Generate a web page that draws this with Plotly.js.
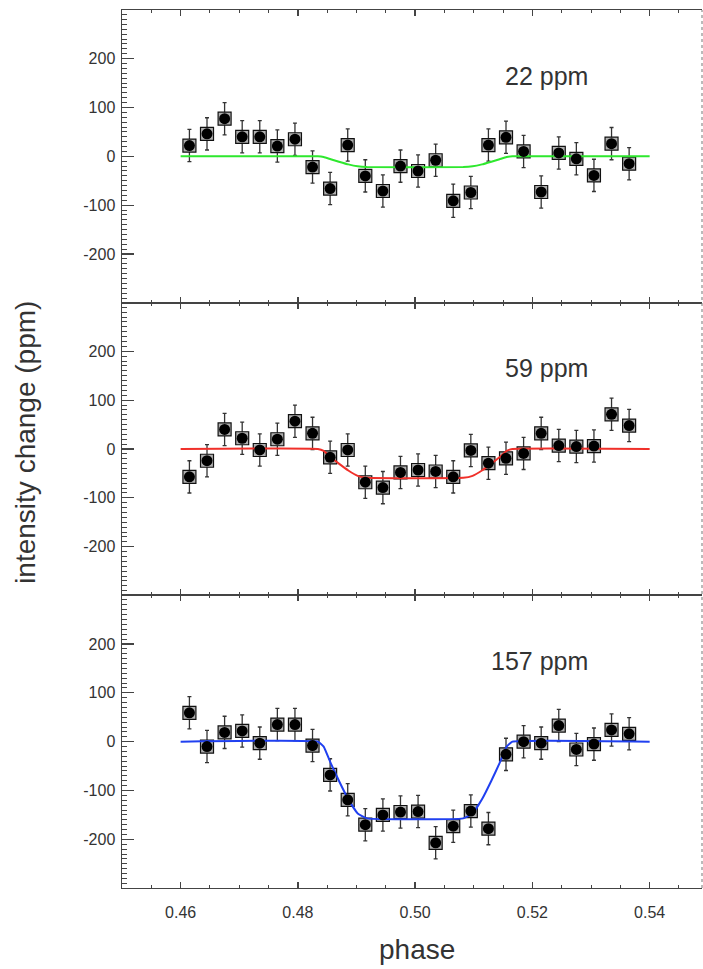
<!DOCTYPE html>
<html>
<head>
<meta charset="utf-8">
<script src="https://cdn.plot.ly/plotly-3.0.1.min.js"></script>
<style>html,body{margin:0;padding:0;background:#fff;}#chart{width:703px;height:969px;}</style>
</head>
<body>
<div id="chart"></div>
<script>
// phase of each binned point
const phase = [0.4615,0.4645,0.4675,0.4705,0.4735,0.4765,0.4795,0.4825,0.4855,0.4885,0.4915,0.4945,0.4975,0.5005,0.5035,0.5065,0.5095,0.5125,0.5155,0.5185,0.5215,0.5245,0.5275,0.5305,0.5335,0.5365];
// intensity change (ppm), one array per panel
const topVals = [22,46,77,40,40,21,35,-22,-66,23,-40,-71,-20,-30,-8,-91,-74,23,39,10,-73,7,-5,-39,26,-15];
const midVals = [-57,-24,40,22,-2,20,57,32,-17,-2,-68,-79,-48,-43,-46,-57,-3,-29,-19,-9,32,7,5,6,71,48];
const botVals = [59,-10,19,22,-3,35,35,-8,-68,-119,-170,-150,-144,-143,-207,-173,-142,-178,-26,0,-3,33,-16,-5,24,16];
// error bars (ppm)
const topErr = [33,33,33,33,33,33,33,33,33,33,33,33,33,33,33,34,33,33,33,33,33,33,33,33,33,33];
const midErr = [33,33,33,33,33,33,33,33,33,33,33,33,33,33,33,33,33,33,33,33,33,33,33,33,33,33];
const botErr = [33,33,33,33,33,33,33,33,33,33,33,33,33,33,33,33,33,33,33,33,33,33,33,33,33,33];
// model transit curves
const modelX = [0.4600,0.4834,0.4844,0.4856,0.4870,0.4886,0.4902,0.4918,0.5082,0.5098,0.5114,0.5130,0.5144,0.5156,0.5166,0.5400];
const modelTop = [0,0,-1.5,-6,-11,-16.5,-20.5,-22,-22,-20.5,-16.5,-11,-6,-1.5,0,0];
const modelMid = [0,0,-4,-17,-30,-44,-55,-59,-59,-55,-44,-30,-17,-4,0,0];
const modelBot = [0,0,-10,-44,-80,-118,-147,-157,-157,-147,-118,-80,-44,-10,0,0];
const depthLabels = ['22 ppm','59 ppm','157 ppm'];
const yTicks = [-200,-100,0,100,200];
const xTicks = [0.46,0.48,0.50,0.52,0.54];

const FONT = 'Liberation Sans, Arial, Helvetica, sans-serif';
const AX = '#444';
const panels = [
  {vals: topVals, err: topErr, model: modelTop, color: '#2ee82e', x: 'x3', y: 'y3'},
  {vals: midVals, err: midErr, model: modelMid, color: '#f0302a', x: 'x2', y: 'y2'},
  {vals: botVals, err: botErr, model: modelBot, color: '#2040f0', x: 'x', y: 'y'}
];
const traces = [];
panels.forEach(p => {
  traces.push({
    x: phase, y: p.vals, xaxis: p.x, yaxis: p.y, type: 'scatter', mode: 'markers',
    marker: {symbol: 'square', size: 13, color: '#b0b0b0', line: {color: '#111', width: 1.2}},
    error_y: {type: 'data', array: p.err, visible: true, color: '#333', thickness: 1.3, width: 2},
    hoverinfo: 'skip', showlegend: false
  });
  traces.push({
    x: modelX, y: p.model, xaxis: p.x, yaxis: p.y, type: 'scatter', mode: 'lines',
    line: {color: p.color, width: 2, shape: 'spline', smoothing: 0.35},
    hoverinfo: 'skip', showlegend: false
  });
  traces.push({
    x: phase, y: p.vals, xaxis: p.x, yaxis: p.y, type: 'scatter', mode: 'markers',
    marker: {symbol: 'circle', size: 11, color: '#000', line: {width: 0}},
    hoverinfo: 'skip', showlegend: false
  });
});

function xax(anchor, labels) {
  return {
    range: [0.45, 0.54893], anchor: anchor, tickvals: xTicks, ticktext: xTicks.map(v => v.toFixed(2)),
    ticks: 'inside', ticklen: 6, tickwidth: 1.3, tickcolor: AX,
    minor: {dtick: 0.005, tick0: 0.45, ticks: 'inside', ticklen: 3, tickcolor: AX, tickwidth: 1},
    showline: true, mirror: 'ticks', linecolor: AX, linewidth: 1.1, showgrid: false, zeroline: false,
    showticklabels: labels, tickfont: {family: FONT, size: 16, color: '#333'}, ticklabelstandoff: 10
  };
}
function yax(domain, anchor) {
  return {
    domain: domain, range: [-299.5, 299.5], tickvals: yTicks, ticktext: yTicks.map(String),
    ticks: 'inside', ticklen: 12, tickwidth: 1.2, tickcolor: AX,
    minor: {dtick: 10, tick0: 0, ticks: 'inside', ticklen: 5, tickcolor: AX, tickwidth: 1},
    showline: true, linecolor: AX, linewidth: 1.5, showgrid: false, zeroline: false,
    anchor: anchor, tickfont: {family: FONT, size: 16, color: '#333'}, ticklabelstandoff: 2
  };
}
function yaxR(domain, over, anchor) {
  return {
    domain: domain, range: [-299.5, 299.5], tickvals: yTicks, overlaying: over, side: 'right',
    ticks: 'inside', ticklen: 5, tickwidth: 1.2, tickcolor: '#666',
    minor: {dtick: 10, tick0: 0, ticks: 'inside', ticklen: 2, tickcolor: '#888', tickwidth: 1},
    showline: false, showgrid: false, zeroline: false, showticklabels: false, anchor: anchor
  };
}
const third = 1/3;
const layout = {
  width: 703, height: 969,
  margin: {l: 122, r: 1, t: 10, b: 81},
  paper_bgcolor: '#fff', plot_bgcolor: '#fff',
  showlegend: false,
  xaxis: xax('y', true),
  xaxis2: xax('y2', false),
  xaxis3: xax('y3', false),
  yaxis: yax([0, third], 'x'),
  yaxis2: yax([third, 2*third], 'x2'),
  yaxis3: yax([2*third, 1], 'x3'),
  yaxis4: yaxR([0, third], 'y', 'x'),
  yaxis5: yaxR([third, 2*third], 'y2', 'x2'),
  yaxis6: yaxR([2*third, 1], 'y3', 'x3'),
  shapes: [
    {type: 'line', xref: 'paper', yref: 'paper', x0: 1, x1: 1, y0: 0, y1: 1,
     line: {color: '#777', width: 1, dash: 'dot'}}
  ],
  annotations: [
    {xref: 'x3', yref: 'y3', x: 0.5298, y: 165, text: depthLabels[0], showarrow: false, xanchor: 'right', yanchor: 'middle', font: {family: FONT, size: 25, color: '#333'}},
    {xref: 'x2', yref: 'y2', x: 0.5298, y: 165, text: depthLabels[1], showarrow: false, xanchor: 'right', yanchor: 'middle', font: {family: FONT, size: 25, color: '#333'}},
    {xref: 'x', yref: 'y', x: 0.5298, y: 165, text: depthLabels[2], showarrow: false, xanchor: 'right', yanchor: 'middle', font: {family: FONT, size: 25, color: '#333'}},
    {xref: 'paper', yref: 'paper', x: -0.1655, y: 0.507, text: 'intensity change (ppm)', textangle: -90, showarrow: false, xanchor: 'center', yanchor: 'middle', font: {family: FONT, size: 28, color: '#333'}},
    {xref: 'paper', yref: 'paper', x: 0.509, y: -0.0706, text: 'phase', showarrow: false, xanchor: 'center', yanchor: 'middle', font: {family: FONT, size: 28, color: '#333'}}
  ]
};
Plotly.newPlot('chart', traces, layout, {staticPlot: true, displayModeBar: false});
</script>
</body>
</html>
